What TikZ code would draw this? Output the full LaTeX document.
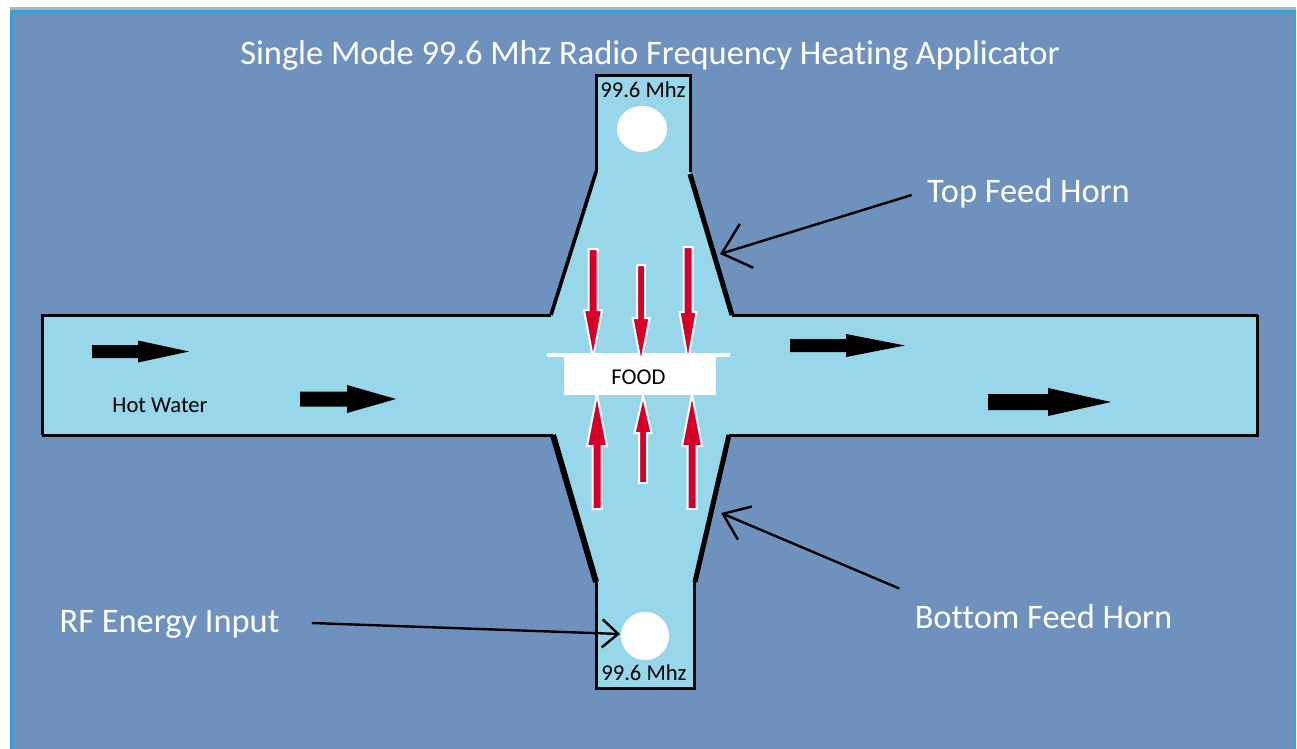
\documentclass[tikz,border=0pt]{standalone}
\usepackage{fontspec}
\setmainfont{Carlito}[Ligatures=NoCommon]
\usetikzlibrary{arrows.meta}
\definecolor{panelblue}{HTML}{6F91BE}
\definecolor{edgeblue}{HTML}{3A9FD3}
\definecolor{waterblue}{HTML}{98D6E9}
\definecolor{fieldred}{HTML}{D5002A}
\tikzset{
  whitelabel/.style={text=white, inner sep=0pt, font=\fontsize{17.2pt}{20pt}\selectfont},
  blacklabel/.style={text=black, inner sep=0pt, font=\fontsize{11.3pt}{13pt}\selectfont},
  pointer/.style={line width=1.2pt, draw=black},
  topbarb/.style={-{Straight Barb[length=13pt,width=23pt]}},
  bottombarb/.style={-{Straight Barb[length=12pt,width=18pt]}},
  smallbarb/.style={-{Straight Barb[length=8pt,width=14pt]}},
}
\begin{document}
\begin{tikzpicture}[x=0.5pt,y=-0.5pt]
\useasboundingbox (0,0) rectangle (1297,749);

% panel
\fill [white] (0,0) rectangle (1297,749);
\fill [gray!60] (10,7) rectangle (1296,10);
\fill [edgeblue] (10,10) rectangle (1296,749);
\fill [panelblue] (13,13) rectangle (1294,749);

% water channel and horns
\fill [waterblue] (42,315) -- (551,315) -- (596,172) -- (596,76) -- (690,76) -- (690,172)
  -- (732,315) -- (1257,315) -- (1257,435) -- (729,435) -- (695,582) -- (694,688)
  -- (596,688) -- (596,582) -- (553,435) -- (42,435) -- cycle;

\draw [line width=1.5pt] (42,435) -- (42,315) -- (551,315);
\draw [line width=1.5pt] (42,435) -- (553,435);
\draw [line width=1.5pt] (732,315) -- (1258,315);
\draw [line width=1.5pt] (1257,315) -- (1257,435) -- (729,435);
\draw [line width=1.5pt] (596,172) -- (596,76) -- (690,76) -- (690,172);
\draw [line width=1.5pt] (596,582) -- (596,688) -- (694,688) -- (694,582);
\draw [line width=1.8pt] (551,315) -- (596,172);
\draw [line width=2.5pt] (690,174) -- (732,315);
\draw [line width=3pt] (553,435) -- (596,582);
\draw [line width=2.5pt] (729,435) -- (695,582);

% feed ports
\fill [white] (642,129) ellipse (25 and 23);
\fill [white] (645,636) circle (24);

% food tray
\fill [white] (564,355) rectangle (716,395);
\fill [white] (547,352.5) rectangle (730,357);
\node [blacklabel] (food) at (638.5,377) {FOOD};

% field arrows
\foreach \x/\ys/\yb/\yt/\s/\h in {593/249/310/358/4.5/9, 641/265/318/363/4/8.5, 688/247/312/361/4.5/8.5,
    597/509/446/394/4.5/10, 643/483/433/396/4/8.5, 692/509/446/394/4.5/10}
  \draw [fieldred, fill=fieldred, draw=white, line width=1pt]
    (\x-\s,\ys) -- (\x-\s,\yb) -- (\x-\h,\yb) -- (\x,\yt) -- (\x+\h,\yb) -- (\x+\s,\yb) -- (\x+\s,\ys) -- cycle;

% flow arrows
\foreach \xs/\xb/\xt/\y/\s/\h in {92/138/189/351.5/6.5/11, 300/347/396/399/7.5/14,
    790/846/905/345.5/6.5/11.5, 988/1048/1111/402/8/14}
  \fill [black] (\xs,\y-\s) -- (\xb,\y-\s) -- (\xb,\y-\h) -- (\xt,\y) -- (\xb,\y+\h) -- (\xb,\y+\s) -- (\xs,\y+\s) -- cycle;

% labels
\node [whitelabel] (title) at (650,56) {Single Mode 99.6 Mhz Radio Frequency Heating Applicator};
\node [whitelabel] (topfeed) at (1028.5,193) {Top Feed Horn};
\node [whitelabel] (bottomfeed) at (1043.5,617) {Bottom Feed Horn};
\node [whitelabel] (rfinput) at (169.5,624) {RF Energy Input};
\node [blacklabel] (hotwater) at (160,405) {Hot Water};
\node [blacklabel] (topfreq) at (643,90) {99.6 Mhz};
\node [blacklabel] (bottomfreq) at (644,673) {99.6 Mhz};

% pointers
\coordinate (tophorn) at (720,254);
\coordinate (bottomhorn) at (721,513);
\coordinate (rfport) at (620,634);
\draw [pointer, topbarb] ([xshift=-7.5pt,yshift=-1pt]topfeed.west) -- (tophorn);
\draw [pointer, bottombarb] ([xshift=-7.5pt,yshift=8pt]bottomfeed.north west) -- (bottomhorn);
\draw [pointer, smallbarb] ([xshift=16pt,yshift=0.5pt]rfinput.east) -- (rfport);
\end{tikzpicture}
\end{document}
